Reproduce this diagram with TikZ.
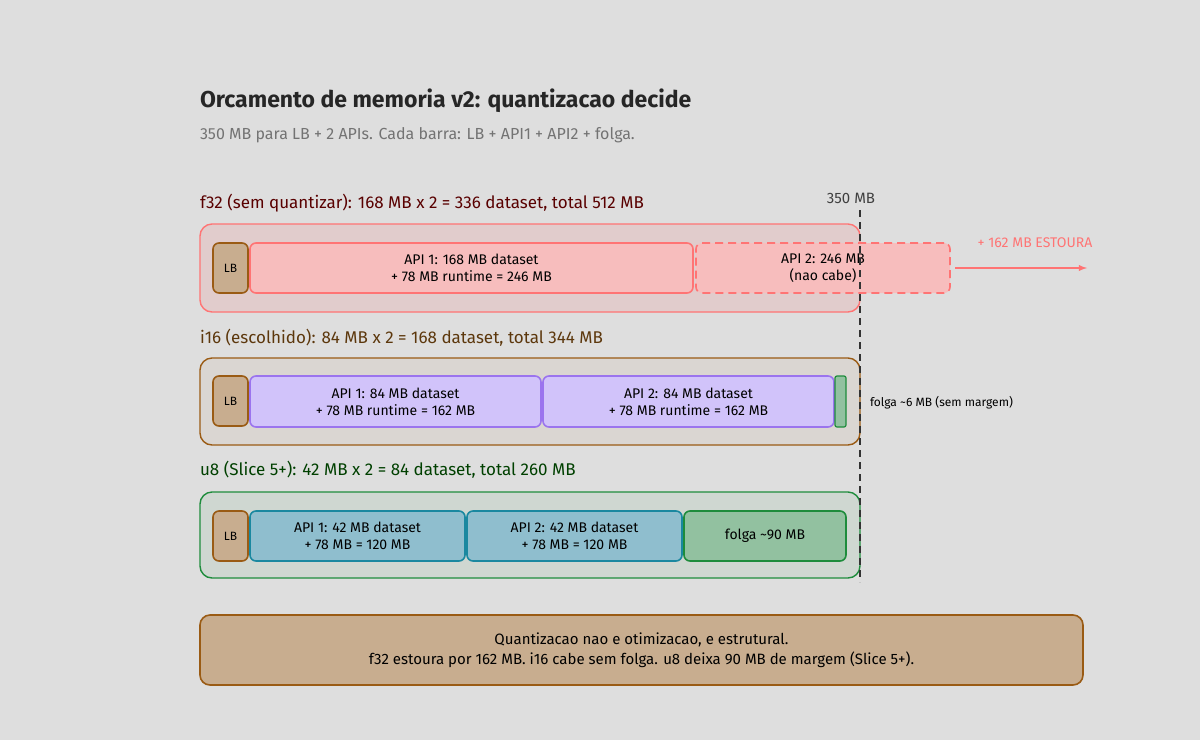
\documentclass[tikz,border=0pt]{standalone}
\usepackage{fontspec}
\setmainfont{Fira Sans}
\definecolor{bg}{HTML}{DEDEDE}
\definecolor{lbtan}{HTML}{C8AD8F}
\definecolor{brn}{HTML}{9A5B14}
\definecolor{redl}{HTML}{FF7474}
\definecolor{pinkf}{HTML}{F7BDBD}
\definecolor{purf}{HTML}{D1C3FA}
\definecolor{purl}{HTML}{9B74EE}
\definecolor{bluf}{HTML}{8FBECE}
\definecolor{blul}{HTML}{1A88A0}
\definecolor{grnf}{HTML}{92C1A0}
\definecolor{grnl}{HTML}{1E8C3C}
\tikzset{
every node/.style={inner sep=0pt, outer sep=0pt, align=center},
box/.style={rounded corners=6pt, line width=1.6pt, anchor=north west,
    font=\fontsize{14}{17}\selectfont},
lbbox/.style={box, fill=lbtan, draw=brn, minimum width=35pt, minimum height=50pt,
    font=\fontsize{12}{14}\selectfont},
group/.style={rounded corners=12pt, line width=1.4pt},
hdr/.style={anchor=west, font=\fontsize{17}{20}\selectfont}
}
\begin{document}
\begin{tikzpicture}[x=1pt,y=-1pt]
\useasboundingbox[fill=bg] (0,0) rectangle (1200,740);
% title
\node[anchor=west, font=\fontsize{23}{27}\selectfont\bfseries, text=black!85] (title) at (200,101)
    {Orcamento de memoria v2: quantizacao decide};
\node[anchor=west, font=\fontsize{16}{19}\selectfont, text=black!55] (sub) at (200,135)
    {350 MB para LB + 2 APIs. Cada barra: LB + API1 + API2 + folga.};
% limit
\node[font=\fontsize{15}{18}\selectfont, text=black!75] (lim) at (851,198) {350 MB};
\coordinate (limtop) at (860,210);
\coordinate (limbot) at (860,582);
% f32
\node[hdr, text=red!35!black] (h32) at (200,203) {f32 (sem quantizar): 168 MB x 2 = 336 dataset, total 512 MB};
\draw[group, fill=red!8!bg, draw=redl] (200,224) rectangle (860,312);
\node[lbbox] (lb32) at (213,243) {LB};
\node[box, fill=pinkf, draw=redl, minimum width=443pt, minimum height=50pt] (a32) at (250,243)
    {API 1: 168 MB dataset\\+ 78 MB runtime = 246 MB};
\node[box, fill=pinkf, draw=redl, dashed, dash pattern=on 8pt off 5pt, minimum width=254pt, minimum height=50pt] (b32) at (696,243)
    {API 2: 246 MB\\(nao cabe)};
\coordinate (over) at (1087,268);
\draw[-latex, redl, line width=1.8pt] (b32.east) ++(5,0) -- (over);
\node[font=\fontsize{14}{17}\selectfont, text=redl] (est) at (1035,243) {+ 162 MB ESTOURA};
% i16
\node[hdr, text=brn!60!black] (h16) at (200,338) {i16 (escolhido): 84 MB x 2 = 168 dataset, total 344 MB};
\draw[group, fill=brn!6!bg, draw=brn] (200,358) rectangle (860,445);
\node[lbbox] (lb16) at (213,376) {LB};
\node[box, fill=purf, draw=purl, minimum width=291pt, minimum height=51pt] (a16) at (250,376)
    {API 1: 84 MB dataset\\+ 78 MB runtime = 162 MB};
\node[box, fill=purf, draw=purl, minimum width=291pt, minimum height=51pt] (b16) at (543,376)
    {API 2: 84 MB dataset\\+ 78 MB runtime = 162 MB};
\node[box, rounded corners=2pt, line width=1.2pt, fill=grnf, draw=grnl, minimum width=11pt, minimum height=51pt] (f16) at (835,376) {};
\node[anchor=west, font=\fontsize{12}{14}\selectfont] (fl16) at (870,403) {folga \textasciitilde6 MB (sem margem)};
% u8
\node[hdr, text=green!25!black] (h8) at (200,470) {u8 (Slice 5+): 42 MB x 2 = 84 dataset, total 260 MB};
\draw[group, fill=grnl!8!bg, draw=grnl] (200,492) rectangle (860,578);
\node[lbbox] (lb8) at (213,511) {LB};
\node[box, fill=bluf, draw=blul, minimum width=215pt, minimum height=50pt] (a8) at (250,511)
    {API 1: 42 MB dataset\\+ 78 MB = 120 MB};
\node[box, fill=bluf, draw=blul, minimum width=215pt, minimum height=50pt] (b8) at (467,511)
    {API 2: 42 MB dataset\\+ 78 MB = 120 MB};
\node[box, fill=grnf, draw=grnl, minimum width=162pt, minimum height=50pt] (f8) at (684,511)
    {folga \textasciitilde90 MB};
\draw[dashed, line width=1.5pt, black!80, dash pattern=on 7pt off 5pt] (limtop) -- (limbot);
% note
\node[box, fill=lbtan, draw=brn, rounded corners=10pt, minimum width=883pt, minimum height=70pt,
    font=\fontsize{15}{20}\selectfont] (note) at (200,615)
    {Quantizacao nao e otimizacao, e estrutural.\\f32 estoura por 162 MB. i16 cabe sem folga. u8 deixa 90 MB de margem (Slice 5+).};
\end{tikzpicture}
\end{document}
